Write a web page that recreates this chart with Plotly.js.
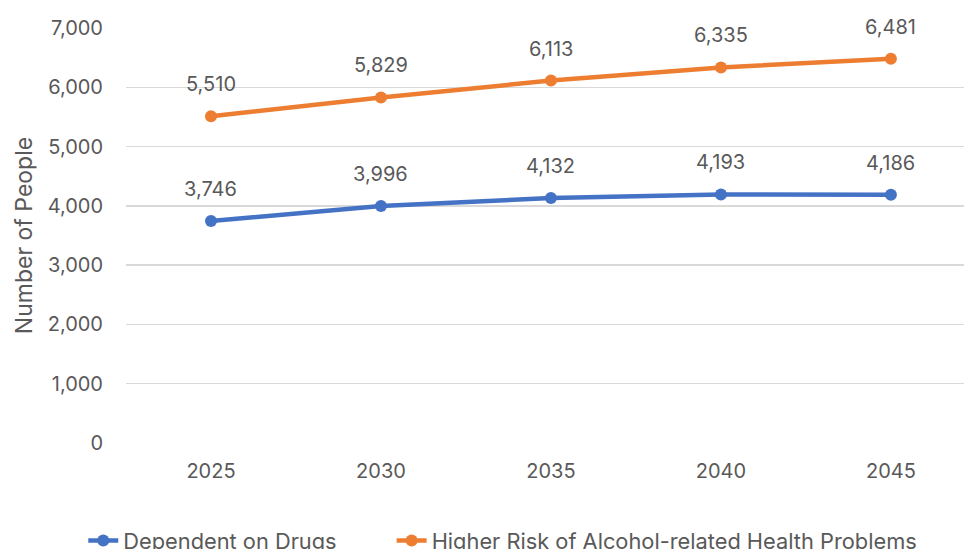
<!DOCTYPE html>
<html>
<head>
<meta charset="utf-8">
<script src="https://cdn.plot.ly/plotly-3.0.1.min.js"></script>
<style>
  html, body { margin: 0; padding: 0; background: #ffffff; }
  #chart { width: 964px; height: 549px; }
</style>
</head>
<body>
<div id="chart"></div>
<script>
// Projected population figures by year
const years = ['2025', '2030', '2035', '2040', '2045'];
const drugsDependent = [3746, 3996, 4132, 4193, 4186];
const alcoholRisk = [5510, 5829, 6113, 6335, 6481];
const seriesNames = ['Dependent on Drugs', 'Higher Risk of Alcohol-related Health Problems'];
const yTicks = [0, 1000, 2000, 3000, 4000, 5000, 6000, 7000];

const BLUE = '#4472C4';
const ORANGE = '#ED7D31';
const TEXT = '#595959';
const FONT = 'Inter, "Open Sans", sans-serif';

function lineTrace(name, values, color, legendId) {
  return {
    type: 'scatter',
    mode: 'lines+markers',
    name: name,
    x: years,
    y: values,
    legend: legendId,
    line: { color: color, width: 4.5 },
    marker: { color: color, size: 12 },
    hoverinfo: 'x+y'
  };
}

// Value labels placed above each point (category index on x)
function valueLabels(values) {
  return values.map((v, i) => ({
    x: i,
    y: v,
    xref: 'x',
    yref: 'y',
    text: v.toLocaleString('en-US'),
    showarrow: false,
    yshift: 32,
    font: { family: FONT, size: 20, color: TEXT }
  }));
}

// One legend box per series so each entry can sit at its own spot
function legendBox(xPos) {
  return {
    orientation: 'h',
    x: xPos,
    xanchor: 'left',
    y: -0.236,
    yanchor: 'middle',
    bgcolor: 'rgba(0,0,0,0)',
    font: { family: FONT, size: 21.8, color: TEXT }
  };
}

const data = [
  lineTrace(seriesNames[0], drugsDependent, BLUE, 'legend'),
  lineTrace(seriesNames[1], alcoholRisk, ORANGE, 'legend2')
];

const layout = {
  width: 964,
  height: 549,
  margin: { l: 126, r: 0, t: 28, b: 106, autoexpand: false },
  paper_bgcolor: '#ffffff',
  plot_bgcolor: '#ffffff',
  font: { family: FONT, size: 20, color: TEXT },
  showlegend: true,
  legend: legendBox(-0.051),
  legend2: legendBox(0.317),
  xaxis: {
    type: 'category',
    range: [-0.5, 4.43],
    showgrid: false,
    zeroline: false,
    showline: false,
    ticks: '',
    ticklabelstandoff: 14,
    tickfont: { family: FONT, size: 20, color: TEXT },
    automargin: false,
    fixedrange: true
  },
  yaxis: {
    range: [0, 7000],
    tickvals: yTicks,
    ticktext: yTicks.map(v => v.toLocaleString('en-US')),
    showgrid: true,
    gridcolor: '#D9D9D9',
    gridwidth: 1.5,
    zeroline: false,
    showline: false,
    ticks: '',
    ticklabelstandoff: 22,
    tickfont: { family: FONT, size: 20, color: TEXT },
    title: {
      text: 'Number of People',
      font: { family: FONT, size: 23, color: TEXT },
      standoff: 8
    },
    automargin: false,
    fixedrange: true
  },
  annotations: [...valueLabels(drugsDependent), ...valueLabels(alcoholRisk)]
};

Plotly.newPlot('chart', data, layout, { displayModeBar: false, staticPlot: true });
</script>
</body>
</html>
